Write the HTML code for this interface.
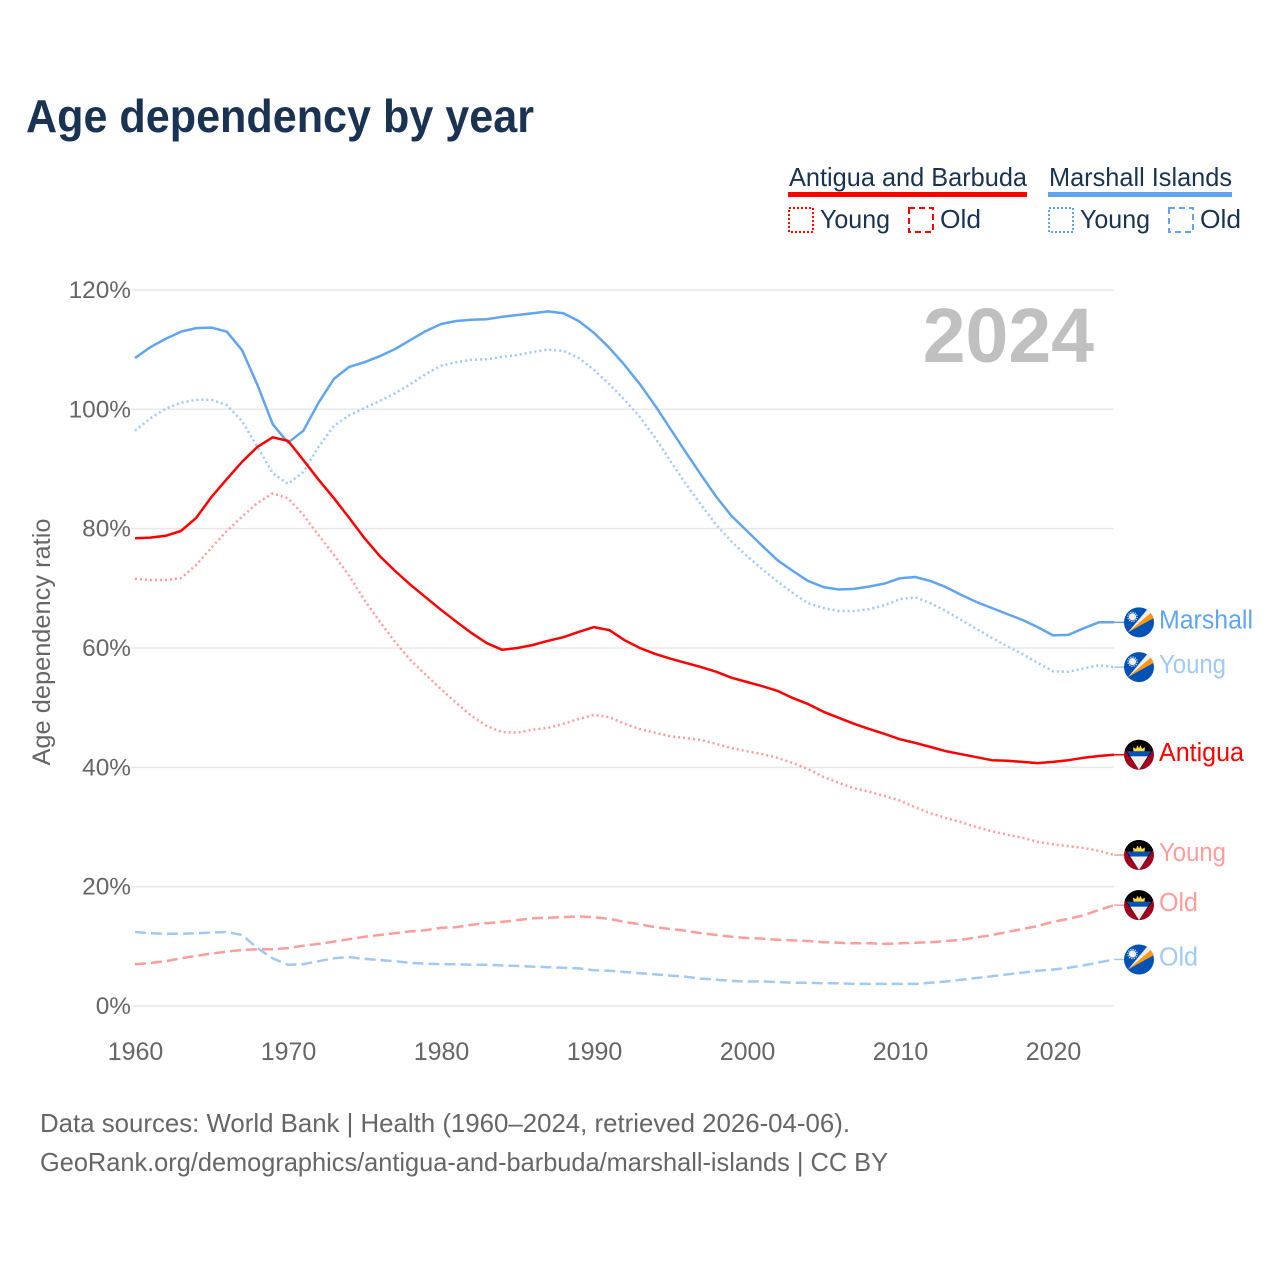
<!DOCTYPE html>
<html lang="en">
<head>
<meta charset="utf-8">
<title>Age dependency by year</title>
<style>
html,body{margin:0;padding:0;background:#fff}
svg{display:block}
text{font-family:"Liberation Sans",sans-serif}
</style>
</head>
<body>
<svg id="chart" xmlns="http://www.w3.org/2000/svg" width="1280" height="1280" viewBox="0 0 1280 1280">
<rect x="0" y="0" width="1280" height="1280" fill="#fff"/>
<text x="26" y="132" font-size="46" font-weight="700" fill="#1a3353" textLength="508" lengthAdjust="spacingAndGlyphs">Age dependency by year</text>

<g fill="#1a3353" font-size="26">
<text x="789" y="186" textLength="238" lengthAdjust="spacingAndGlyphs">Antigua and Barbuda</text>
<rect x="788" y="192" width="239" height="5" fill="#ff0000"/>
<text x="1049" y="186" textLength="183" lengthAdjust="spacingAndGlyphs">Marshall Islands</text>
<rect x="1048" y="192" width="184" height="5" fill="#60a5ee"/>
<rect x="789" y="208" width="24" height="24" fill="none" stroke="#ff0000" stroke-width="2" stroke-dasharray="2 2"/>
<text x="820" y="228" textLength="70" lengthAdjust="spacingAndGlyphs">Young</text>
<rect x="909" y="208" width="24" height="24" fill="none" stroke="#ff0000" stroke-width="2" stroke-dasharray="6 4"/>
<text x="940" y="228" textLength="41" lengthAdjust="spacingAndGlyphs">Old</text>
<rect x="1049" y="208" width="24" height="24" fill="none" stroke="#60a5ee" stroke-width="2" stroke-dasharray="2 2"/>
<text x="1080" y="228" textLength="70" lengthAdjust="spacingAndGlyphs">Young</text>
<rect x="1169" y="208" width="24" height="24" fill="none" stroke="#60a5ee" stroke-width="2" stroke-dasharray="6 4"/>
<text x="1200" y="228" textLength="41" lengthAdjust="spacingAndGlyphs">Old</text>
</g>

<text transform="translate(50,642) rotate(-90)" text-anchor="middle" font-size="25" fill="#666666" textLength="247" lengthAdjust="spacingAndGlyphs">Age dependency ratio</text>
<g id="grid"></g>
<g id="xticks"></g>
<text x="1094" y="362" text-anchor="end" font-size="77" font-weight="700" fill="#c0c0c0">2024</text>
<g id="series"></g>
<g id="ends"></g>

<g fill="#666666" font-size="26">
<text x="40" y="1132" textLength="810" lengthAdjust="spacingAndGlyphs">Data sources: World Bank | Health (1960–2024, retrieved 2026-04-06).</text>
<text x="40" y="1171" textLength="848" lengthAdjust="spacingAndGlyphs">GeoRank.org/demographics/antigua-and-barbuda/marshall-islands | CC BY</text>
</g>
</svg>

<script>
const firstYear = 1960;
const yTickValues = [0, 20, 40, 60, 80, 100, 120];
const yTickLabels = ["0%", "20%", "40%", "60%", "80%", "100%", "120%"];
const xTickValues = [1960, 1970, 1980, 1990, 2000, 2010, 2020];
const xTickLabels = ["1960", "1970", "1980", "1990", "2000", "2010", "2020"];

const marshallTotal = [108.6,110.4,111.8,113.0,113.6,113.7,113.0,109.9,104.1,97.5,94.4,96.4,101.1,105.1,107.1,107.9,108.9,110.1,111.6,113.1,114.3,114.8,115.0,115.1,115.5,115.8,116.1,116.4,116.1,114.8,112.8,110.3,107.4,104.2,100.6,96.7,92.8,89.0,85.3,82.1,79.6,77.1,74.7,72.9,71.2,70.2,69.8,69.9,70.3,70.8,71.7,71.9,71.2,70.2,68.9,67.7,66.7,65.7,64.7,63.5,62.1,62.2,63.3,64.3,64.3];
const marshallYoung = [96.4,98.5,100.1,101.1,101.6,101.6,100.7,98.0,93.7,89.3,87.5,89.5,93.7,97.2,99.0,100.2,101.4,102.7,104.2,105.9,107.3,107.9,108.3,108.4,108.8,109.1,109.6,110.0,109.8,108.6,106.6,104.2,101.6,98.7,95.2,91.3,87.5,84.0,80.6,77.8,75.4,73.2,71.1,69.2,67.5,66.7,66.2,66.2,66.5,67.2,68.2,68.5,67.5,66.2,64.7,63.2,61.7,60.3,59.0,57.5,56.1,56.0,56.6,57.1,56.8];
const marshallOld = [12.4,12.2,12.1,12.1,12.2,12.3,12.4,11.9,9.7,8.0,6.9,7.0,7.5,8.0,8.2,7.9,7.7,7.5,7.2,7.1,7.0,7.0,6.9,6.9,6.8,6.7,6.6,6.5,6.4,6.3,6.0,5.9,5.7,5.5,5.3,5.1,4.9,4.6,4.4,4.2,4.1,4.1,4.0,3.9,3.9,3.8,3.8,3.7,3.7,3.7,3.7,3.7,3.9,4.1,4.4,4.7,5.0,5.3,5.6,5.9,6.1,6.4,6.8,7.3,7.8];
const antiguaTotal = [78.4,78.5,78.8,79.6,81.8,85.3,88.3,91.2,93.7,95.3,94.7,91.5,88.2,85.1,81.8,78.4,75.4,72.9,70.6,68.5,66.4,64.4,62.5,60.8,59.7,60.0,60.5,61.2,61.8,62.7,63.5,63.0,61.3,60.0,59.0,58.2,57.5,56.8,56.0,55.0,54.3,53.6,52.8,51.6,50.6,49.3,48.3,47.3,46.4,45.6,44.7,44.1,43.4,42.7,42.2,41.7,41.2,41.1,40.9,40.7,40.9,41.2,41.6,41.9,42.1];
const antiguaYoung = [71.6,71.4,71.4,71.7,73.9,76.8,79.6,82.0,84.3,85.9,85.1,82.3,78.9,75.6,72.1,68.0,64.4,61.0,58.0,55.5,53.1,50.8,48.6,46.9,45.9,45.8,46.3,46.6,47.3,48.1,48.8,48.4,47.3,46.4,45.8,45.2,44.9,44.6,43.9,43.2,42.7,42.2,41.6,40.7,39.7,38.4,37.4,36.5,35.9,35.2,34.4,33.3,32.3,31.5,30.8,30.0,29.3,28.7,28.2,27.5,27.1,26.8,26.5,26.0,25.3];
const antiguaOld = [7.0,7.2,7.5,8.0,8.4,8.8,9.1,9.4,9.5,9.5,9.7,10.1,10.4,10.8,11.2,11.6,11.9,12.2,12.5,12.7,13.1,13.2,13.6,13.9,14.1,14.4,14.7,14.8,14.9,15.0,14.9,14.6,14.1,13.7,13.2,12.9,12.6,12.2,11.9,11.6,11.4,11.3,11.1,11.0,10.9,10.7,10.6,10.5,10.5,10.4,10.5,10.6,10.7,10.9,11.1,11.5,11.9,12.4,12.9,13.4,14.1,14.6,15.2,16.1,16.9];

const SVGNS = "http://www.w3.org/2000/svg";
function xScale(year) { return 135 + (year - firstYear) * 15.3; }
function yScale(v) { return 1006 - v * 5.967; }
function make(tag, parent, attrs) {
  const el = document.createElementNS(SVGNS, tag);
  for (const k in attrs) el.setAttribute(k, attrs[k]);
  parent.appendChild(el);
  return el;
}

const gridG = document.getElementById("grid");
yTickValues.forEach(function (v, i) {
  const line = make("line", gridG, {x1: 131, x2: 1114, y1: yScale(v), y2: yScale(v), stroke: "#e8e8e8", "stroke-width": 1.5});
  
  
  const t = make("text", gridG, {x: 131, y: yScale(v) + 8, "text-anchor": "end", "font-size": 24.4, fill: "#666666"});
  t.textContent = yTickLabels[i];
  
  
});

const xG = document.getElementById("xticks");
xTickValues.forEach(function (v, i) {
  const t = make("text", xG, {x: xScale(v) + 0.5, y: 1060, "text-anchor": "middle", "font-size": 25, fill: "#666666"});
  t.textContent = xTickLabels[i];
  
  
});

const DOT = "2 3", DASH = "11 5";
const seriesList = [
  {values: marshallOld,   color: "#a0c9f5", dash: DASH, label: "Old",      flag: "mh", w: 39, name: "marshall-old"},
  {values: antiguaOld,    color: "#ff9c9c", dash: DASH, label: "Old",      flag: "ag", w: 39, name: "antigua-old"},
  {values: marshallYoung, color: "#a0c9f5", dash: DOT,  label: "Young",    flag: "mh", w: 67, name: "marshall-young"},
  {values: antiguaYoung,  color: "#ff9c9c", dash: DOT,  label: "Young",    flag: "ag", w: 67, name: "antigua-young"},
  {values: marshallTotal, color: "#60a5ee", dash: "",   label: "Marshall", flag: "mh", w: 94, name: "marshall-total"},
  {values: antiguaTotal,  color: "#ff0000", dash: "",   label: "Antigua",  flag: "ag", w: 85, name: "antigua-total"}
];

let clipCount = 0;
function drawFlag(parent, kind, cx, cy) {
  const g = make("g", parent, {transform: "translate(" + cx + "," + cy + ")"});
  
  
  const id = "flagclip" + (clipCount++);
  const cp = make("clipPath", g, {id: id});
  make("circle", cp, {cx: 0, cy: 0, r: 15});
  const inner = make("g", g, {"clip-path": "url(#" + id + ")"});
  if (kind === "mh") {
    make("rect", inner, {x: -16, y: -16, width: 32, height: 32, fill: "#0052b4"});
    make("polygon", inner, {points: "-11,10 10,-15 16,-9", fill: "#f0f0f0"});
    make("polygon", inner, {points: "-11,10 13.5,-11 16,-5", fill: "#ff9811"});
    make("circle", inner, {cx: -6.5, cy: -5.5, r: 3.6, fill: "#f0f0f0"});
    make("circle", inner, {cx: -6.5, cy: -5.5, r: 4.6, fill: "none", stroke: "#f0f0f0", "stroke-width": 1.2, "stroke-dasharray": "1.2 1.2"});
  } else {
    make("rect", inner, {x: -16, y: -16, width: 32, height: 32, fill: "#a2001d"});
    make("polygon", inner, {points: "-22,-16 22,-16 0,15", fill: "#000000"});
    make("polygon", inner, {points: "-12.3,-3.5 12.3,-3.5 8.8,1.5 -8.8,1.5", fill: "#0052b4"});
    make("polygon", inner, {points: "-8.8,1.5 8.8,1.5 0,15", fill: "#f0f0f0"});
    make("polygon", inner, {points: "-5.5,-3.5 -6,-7.5 -3,-6 -1.5,-9.5 0,-6.5 1.5,-9.5 3,-6 6,-7.5 5.5,-3.5", fill: "#ffda44"});
  }
}

const sG = document.getElementById("series");
const eG = document.getElementById("ends");
seriesList.forEach(function (s) {
  const pts = s.values.map(function (v, i) { return xScale(firstYear + i).toFixed(1) + "," + yScale(v).toFixed(1); });
  const attrs = {points: pts.join(" "), fill: "none", stroke: s.color, "stroke-width": 2.5, "stroke-linejoin": "round"};
  if (s.dash) attrs["stroke-dasharray"] = s.dash;
  const line = make("polyline", sG, attrs);
  
  

  const lastV = s.values[s.values.length - 1];
  const endX = xScale(firstYear + s.values.length - 1);
  const endY = yScale(lastV);
  const conn = make("line", eG, {x1: endX, x2: endX + 12, y1: endY, y2: endY, stroke: s.color, "stroke-width": 1.5});
  
  
  drawFlag(eG, s.flag, 1139, endY);
  const t = make("text", eG, {x: 1159, y: endY + 6, "font-size": 25.5, fill: s.color, textLength: s.w, lengthAdjust: "spacingAndGlyphs"});
  t.textContent = s.label;
  
  
});
</script>
</body>
</html>
